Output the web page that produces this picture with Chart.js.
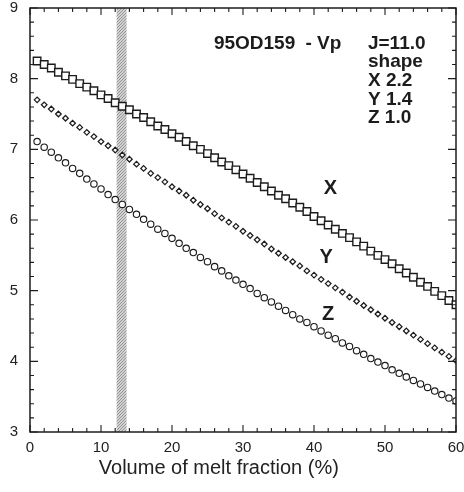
<!DOCTYPE html>
<html>
<head>
<meta charset="utf-8">
<script src="https://cdn.jsdelivr.net/npm/chart.js@4.4.1/dist/chart.umd.min.js"></script>
<style>
html,body{margin:0;padding:0;background:#fff;}
#wrap{width:464px;height:492px;position:relative;}
</style>
</head>
<body>
<div id="wrap"><canvas id="c" width="464" height="492"></canvas></div>
<script>
// ---- data ----
const meltFraction = [1,2,3,4,5,6,7,8,9,10,11,12,13,14,15,16,17,18,19,20,21,22,23,24,25,26,27,28,29,30,31,32,33,34,35,36,37,38,39,40,41,42,43,44,45,46,47,48,49,50,51,52,53,54,55,56,57,58,59,60];
const vpX = [8.25,8.20,8.15,8.09,8.04,7.99,7.93,7.88,7.83,7.77,7.72,7.66,7.61,7.56,7.50,7.45,7.39,7.33,7.28,7.22,7.17,7.11,7.05,7.00,6.94,6.88,6.82,6.77,6.71,6.65,6.59,6.53,6.47,6.41,6.35,6.30,6.24,6.18,6.12,6.05,5.99,5.93,5.87,5.81,5.75,5.69,5.63,5.56,5.50,5.44,5.38,5.31,5.25,5.19,5.12,5.06,4.99,4.93,4.86,4.80];
const vpY = [7.70,7.63,7.57,7.50,7.44,7.37,7.31,7.24,7.18,7.11,7.05,6.99,6.92,6.86,6.79,6.73,6.66,6.60,6.54,6.47,6.41,6.35,6.28,6.22,6.16,6.09,6.03,5.97,5.91,5.84,5.78,5.72,5.66,5.59,5.53,5.47,5.41,5.35,5.28,5.22,5.16,5.10,5.04,4.98,4.91,4.85,4.79,4.73,4.67,4.61,4.55,4.49,4.43,4.37,4.31,4.25,4.19,4.13,4.07,4.01];
const vpZ = [7.11,7.03,6.96,6.88,6.81,6.73,6.66,6.58,6.51,6.44,6.36,6.29,6.22,6.15,6.08,6.01,5.94,5.87,5.81,5.74,5.67,5.60,5.54,5.47,5.41,5.34,5.28,5.21,5.15,5.09,5.03,4.96,4.90,4.84,4.78,4.72,4.66,4.60,4.55,4.49,4.43,4.37,4.32,4.26,4.21,4.15,4.10,4.04,3.99,3.94,3.88,3.83,3.78,3.73,3.68,3.63,3.58,3.53,3.48,3.44];
const xTickValues = [0,10,20,30,40,50,60];
const yTickValues = [3,4,5,6,7,8,9];
const bandRange = [12.2, 13.6];
const xAxisTitle = 'Volume of melt fraction (%)';
const headerTexts = ['95OD159', '- Vp', 'J=11.0', 'shape', 'X 2.2', 'Y 1.4', 'Z 1.0'];
const headerAnchors = [[25.9,8.50],[38.8,8.50],[47.6,8.50],[47.6,8.235],[47.6,7.97],[47.6,7.705],[47.6,7.44]];
const curveLabels = ['X','Y','Z'];
const curveLabelAnchors = [[42.3,6.44],[41.7,5.47],[42.0,4.67]];

const pts = arr => meltFraction.map((m,i)=>({x:m, y:arr[i]}));

const INK = '#1c1c1c';
const SANS = '"Liberation Sans", Arial, Helvetica, sans-serif';

// stipple pattern for the shaded band
function stipple(ctx){
  const p = document.createElement('canvas'); p.width = 3; p.height = 3;
  const g = p.getContext('2d');
  g.fillStyle = '#d2d2d2'; g.fillRect(0,0,3,3);
  g.fillStyle = '#959595';
  g.fillRect(0,0,1,1); g.fillRect(2,1,1,1); g.fillRect(1,2,1,1);
  return ctx.createPattern(p,'repeat');
}

const bandPlugin = {
  id:'band',
  beforeDatasetsDraw(chart){
    const {ctx, chartArea:a, scales:{x}} = chart;
    const x0 = x.getPixelForValue(bandRange[0]), x1 = x.getPixelForValue(bandRange[1]);
    ctx.save();
    ctx.fillStyle = stipple(ctx);
    ctx.fillRect(x0, a.top, x1-x0, a.bottom-a.top);
    ctx.restore();
  }
};

const framePlugin = {
  id:'frame',
  afterDatasetsDraw(chart){
    const {ctx, chartArea:a, scales:{x,y}} = chart;
    ctx.save();
    ctx.strokeStyle = INK; ctx.lineWidth = 1.5;
    ctx.strokeRect(a.left, a.top, a.right-a.left, a.bottom-a.top);
    ctx.lineWidth = 1.1;
    ctx.beginPath();
    for(let i=0;i<=30;i++){
      const v = i*2, px = x.getPixelForValue(v);
      const len = (v%10===0) ? 7 : 4;
      ctx.moveTo(px, a.bottom); ctx.lineTo(px, a.bottom-len);
      ctx.moveTo(px, a.top); ctx.lineTo(px, a.top+len);
    }
    for(let i=0;i<=30;i++){
      const v = 3 + i*0.2, py = y.getPixelForValue(v);
      const len = (i%5===0) ? 8 : 4;
      ctx.moveTo(a.left, py); ctx.lineTo(a.left+len, py);
      ctx.moveTo(a.right, py); ctx.lineTo(a.right-len, py);
    }
    ctx.stroke();
    ctx.restore();
  },
  afterDraw(chart){
    const {ctx, chartArea:a, scales:{x,y}} = chart;
    ctx.save();
    ctx.fillStyle = INK;
    ctx.textBaseline = 'middle';
    ctx.textAlign = 'left';
    ctx.font = 'bold 19px ' + SANS;
    headerTexts.forEach((t,i)=>{
      ctx.fillText(t, x.getPixelForValue(headerAnchors[i][0]), y.getPixelForValue(headerAnchors[i][1]));
    });
    ctx.textAlign = 'center';
    ctx.font = 'bold 20px ' + SANS;
    curveLabels.forEach((t,i)=>{
      ctx.fillText(t, x.getPixelForValue(curveLabelAnchors[i][0]), y.getPixelForValue(curveLabelAnchors[i][1]));
    });
    ctx.font = '20px ' + SANS;
    ctx.fillStyle = '#222';
    ctx.fillText(xAxisTitle, x.getPixelForValue(26.6), a.bottom + 36);
    ctx.restore();
  }
};

new Chart(document.getElementById('c'), {
  type:'scatter',
  data:{
    datasets:[
      {label:'X', data:pts(vpX), pointStyle:'rect', pointRadius:5.3, borderWidth:1.4, borderColor:INK, backgroundColor:'#ffffff', showLine:false},
      {label:'Y', data:pts(vpY), pointStyle:'rectRot', pointRadius:2.8, borderWidth:1.25, borderColor:INK, backgroundColor:'#ffffff', showLine:false},
      {label:'Z', data:pts(vpZ), pointStyle:'circle', pointRadius:3.2, borderWidth:1.15, borderColor:INK, backgroundColor:'#ffffff', showLine:false}
    ]
  },
  options:{
    responsive:false,
    animation:false,
    devicePixelRatio:1,
    layout:{padding:{top:8,right:8,left:0,bottom:0}},
    plugins:{legend:{display:false}, tooltip:{enabled:false}},
    scales:{
      x:{
        type:'linear', min:0, max:60,
        grid:{display:false, drawTicks:false}, border:{display:false},
        afterBuildTicks: s => { s.ticks = xTickValues.map(v=>({value:v})); },
        afterFit: s => { s.height = 60; s.paddingLeft = 0; s.paddingRight = 0; },
        ticks:{font:{family:SANS, size:15}, color:'#222', padding:7, maxRotation:0}
      },
      y:{
        type:'linear', min:3, max:9,
        grid:{display:false, drawTicks:false}, border:{display:false},
        afterBuildTicks: s => { s.ticks = yTickValues.map(v=>({value:v})); },
        afterFit: s => { s.width = 30; s.paddingTop = 0; s.paddingBottom = 0; },
        ticks:{font:{family:SANS, size:15}, color:'#222', padding:12}
      }
    }
  },
  plugins:[bandPlugin, framePlugin]
});
</script>
</body>
</html>
